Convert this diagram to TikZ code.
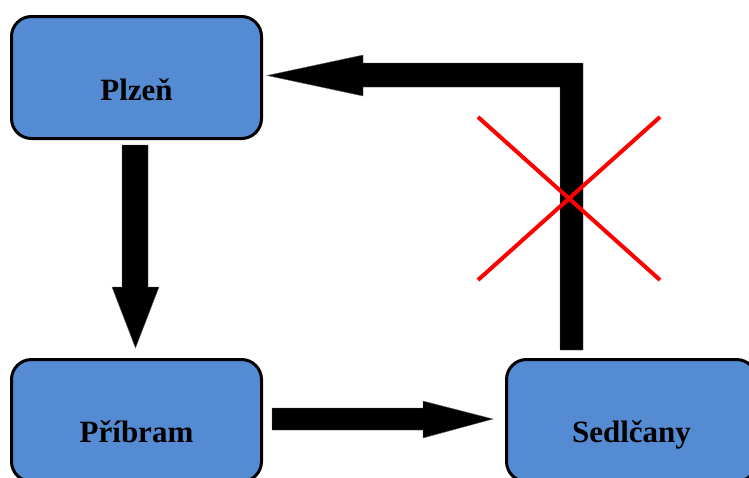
\documentclass[tikz,border=0pt]{standalone}
\usepackage{fontspec}
\setmainfont{Liberation Serif}
\definecolor{boxblue}{RGB}{84,139,211}
\definecolor{xred}{RGB}{255,0,0}
\begin{document}
\begin{tikzpicture}[x=1pt,y=-1pt,
  box/.style={draw=black, line width=3pt, fill=boxblue, rounded corners=20pt,
    minimum width=250pt, minimum height=122pt, inner sep=0pt},
  lbl/.style={font=\fontsize{31pt}{31pt}\selectfont\bfseries, anchor=base, inner sep=0pt},
  blockarrow/.style={fill=black, draw=black!60, line width=0.4pt},
  cross/.style={draw=xred, line width=4pt}]
\clip (0,0) rectangle (749,477);
\fill[white] (0,0) rectangle (749,477);
% boxes
\node[box] (plzen) at (136.5,77.5) {};
\node[box] (pribram) at (136.5,420.5) {};
\node[box] (sedlcany) at (631.5,420.5) {};
\node[lbl] (plzenlbl) at ([yshift=-22.5pt]plzen.center) {Plzeň};
\node[lbl] (pribramlbl) at ([yshift=-21.5pt]pribram.center) {Příbram};
\node[lbl] (sedlcanylbl) at ([yshift=-21.5pt]sedlcany.center) {Sedlčany};
% block arrows
\path[blockarrow] (122,145) -- (148,145) -- (148,287) -- (159,287) -- (135.5,348)
  -- (112,287) -- (122,287) -- cycle;
\path[blockarrow] (272,408) -- (423,408) -- (423,401) -- (493,419) -- (423,438)
  -- (423,430) -- (272,430) -- cycle;
\path[blockarrow] (560,350) -- (583,350) -- (583,63) -- (363,63) -- (363,55)
  -- (267,75.5) -- (363,96) -- (363,87) -- (560,87) -- cycle;
% red cross
\coordinate (xa) at (478,117);
\coordinate (xb) at (660,280);
\coordinate (xc) at (660,117);
\coordinate (xd) at (478,280);
\draw[cross] (xa) -- (xb);
\draw[cross] (xc) -- (xd);
\end{tikzpicture}
\end{document}
